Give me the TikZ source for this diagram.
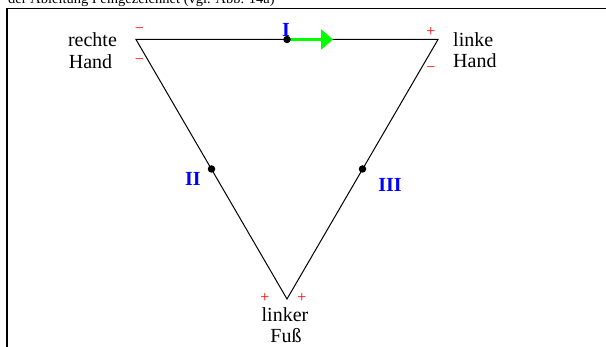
\documentclass[tikz,border=0pt]{standalone}
\usepackage{fontspec}
\setmainfont{Liberation Serif}
\usetikzlibrary{arrows.meta}
\begin{document}
\begin{tikzpicture}[x=1pt,y=-1pt,
  lbl/.style={font=\fontsize{20}{22}\selectfont, inner sep=0pt, anchor=base},
  num/.style={font=\fontsize{20}{22}\selectfont\bfseries, text=blue, inner sep=0pt, anchor=base},
  sgn/.style={font=\fontsize{16}{16}\selectfont, text=red, inner sep=0pt},
  dotnode/.style={circle, fill=black, inner sep=0pt, minimum size=7.5pt},
  side/.style={line width=1pt},
  frame/.style={line width=1.2pt},
  current/.style={green, line width=3pt, -{Triangle[length=12pt,width=20pt]}}]
\useasboundingbox (0,0) rectangle (606,347);
\node[anchor=base west, font=\fontsize{14.5}{16}\selectfont, inner sep=0pt] (cap) at (8,4) {der Ableitung I eingezeichnet (vgl. Abb. 14a)};
\draw[frame] (7,352) -- (7,8.5) -- (612,8.5);
% vertices
\coordinate (rh) at (136,39.5);
\coordinate (lh) at (438,39.5);
\coordinate (lf) at (287,299);
\draw[side] (rh) -- (lh) -- (lf) -- cycle;
% current arrow
\coordinate (p1) at (287,39.5);
\coordinate (ae) at (333,39.5);
\draw[current] (p1) -- (ae);
% dots
\node[dotnode] (d1) at (p1) {};
\node[dotnode] (d2) at (211.5,169) {};
\node[dotnode] (d3) at (362.5,169) {};
% lead labels
\node[num] (nI) at (286,37) {I};
\node[num] (nII) at (193,186) {II};
\node[num] (nIII) at (390,192) {III};
% limb labels
\node[lbl] (rh1) at (92.5,47) {rechte};
\node[lbl] (rh2) at (90.5,69) {Hand};
\node[lbl, anchor=base west] (lh1) at (453,47) {linke};
\node[lbl, anchor=base west] (lh2) at (453,68) {Hand};
\node[lbl] (lf1) at (285,322) {linker};
\node[lbl] (lf2) at (286,343) {Fuß};
% polarity signs
\node[sgn] (s1) at (139.5,31) {−};
\node[sgn] (s2) at (139.5,62) {−};
\node[sgn] (s3) at (431,32) {+};
\node[sgn] (s4) at (431,70) {−};
\node[sgn] (s5) at (265,298) {+};
\node[sgn] (s6) at (302,298) {+};
\end{tikzpicture}
\end{document}
